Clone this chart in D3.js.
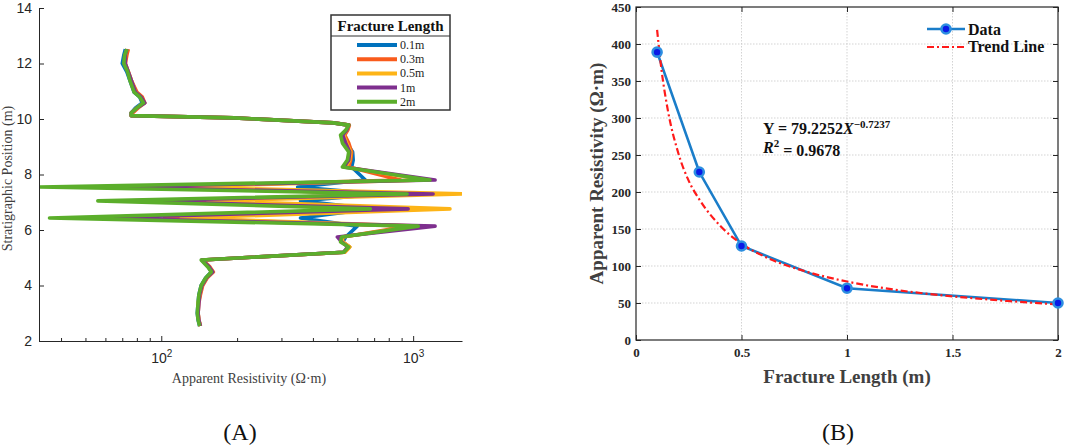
<!DOCTYPE html>
<html>
<head>
<meta charset="utf-8">
<script src="https://cdn.jsdelivr.net/npm/d3@7"></script>
<style>
  body { margin: 0; background: #fff; }
  svg { display: block; }
</style>
</head>
<body>
<div id="chart"></div>
<script>
// Panel A: apparent resistivity logs, one series per fracture length
const depth = [12.52, 12.3, 12.0, 11.7, 11.4, 10.97, 10.8, 10.58, 10.4, 10.22, 10.12, 10.04, 9.86, 9.78, 9.6, 9.42, 9.13, 8.81, 8.52, 8.27,
  7.80, 7.55, 7.30, 7.05, 6.76, 6.43, 6.14,
  5.75, 5.57, 5.39, 5.2, 4.92, 4.67, 4.49, 4.27, 4.0, 3.66, 3.37, 3.0, 2.76, 2.54];

const res01 = [72, 71, 70, 73, 75, 78, 82, 84, 79, 76, 76, 194, 483, 555, 545, 530, 545, 575, 578, 570,
  646, 348, 740, 357, 676, 357, 600,
  540, 525, 555, 530, 145, 154, 158, 150, 144, 141, 140, 139, 140, 142];
const res03 = [74, 73, 72, 74, 76, 80, 84, 86, 81, 77, 76, 195, 485, 558, 550, 535, 555, 570, 565, 555,
  890, 89, 890, 109, 810, 103, 970,
  525, 525, 560, 535, 146, 156, 161, 152, 146, 143, 141, 140, 141, 143];
const res05 = [73, 72, 71.5, 74, 76, 79, 83, 85, 80, 76, 76, 194, 483, 555, 545, 530, 545, 565, 560, 540,
  1110, 112, 1563, 153, 1400, 120, 1060,
  520, 525, 560, 535, 145, 155, 160, 151, 145, 142, 140, 140, 141, 143];
const res1 = [73, 72, 72, 74, 76, 79, 83, 86, 80, 76, 76, 194, 483, 555, 545, 525, 540, 560, 555, 530,
  1222, 59, 1200, 76, 955, 55, 1222,
  500, 520, 550, 530, 145, 155, 160, 151, 145, 142, 141, 140, 141, 143];
const res2 = [73, 71.5, 71, 73.5, 75, 78, 82, 85, 80, 76, 76, 194, 483, 555, 540, 515, 524, 555, 548, 524,
  1166, 33, 946, 56, 676, 36, 1047,
  520, 515, 555, 530, 144, 153, 158, 150, 144, 141, 140, 139, 140, 142];

const seriesNames = ['0.1m', '0.3m', '0.5m', '1m', '2m'];
const seriesColors = ['#0072BD', '#F95B1C', '#FDB417', '#7E2F8E', '#5BAE2B'];
const seriesValues = [res01, res03, res05, res1, res2];

const depthTicks = [2, 4, 6, 8, 10, 12, 14];
const resMajorTicks = [100, 1000];
const resMinorTicks = [40, 50, 60, 70, 80, 90, 200, 300, 400, 500, 600, 700, 800, 900];

// Panel B: mean apparent resistivity vs fracture length, with power-law trend
const fracLength = [0.1, 0.3, 0.5, 1, 2];
const appRes = [389, 227, 127, 70, 50];
const trendX = [0.1, 0.12, 0.15, 0.2, 0.25, 0.3, 0.4, 0.5, 0.6, 0.8, 1, 1.25, 1.5, 1.75, 2];
const trendY = [419, 367, 312, 253, 215, 190, 154, 130, 114, 93, 79, 67, 59, 53, 48];
const lenTicks = [0, 0.5, 1, 1.5, 2];
const appResTicks = [0, 50, 100, 150, 200, 250, 300, 350, 400, 450];

const W = 1065, H = 447;
const svg = d3.select('#chart').append('svg')
  .attr('width', W).attr('height', H);

const serif = '"Liberation Serif", "Times New Roman", serif';
const sans = '"Liberation Sans", Arial, sans-serif';

// ---------- Panel A ----------
const A = { left: 39, right: 462, top: 8, bottom: 341 };

const xA = d3.scaleLog().domain([32.7, 1563]).range([A.left, A.right]);
const yA = d3.scaleLinear().domain([2, 14]).range([A.bottom, A.top]);

const gA = svg.append('g');

gA.append('clipPath').attr('id', 'clipA')
  .append('rect')
  .attr('x', A.left).attr('y', A.top)
  .attr('width', A.right - A.left).attr('height', A.bottom - A.top);

const lineA = d3.line()
  .x(d => xA(d[1]))
  .y(d => yA(d[0]));

seriesValues.forEach((vals, i) => {
  gA.append('path')
    .datum(depth.map((d, j) => [d, vals[j]]))
    .attr('clip-path', 'url(#clipA)')
    .attr('fill', 'none')
    .attr('stroke', seriesColors[i])
    .attr('stroke-width', 3.6)
    .attr('stroke-linejoin', 'round')
    .attr('d', lineA);
});

// y axis (ticks point inward)
const yAxisA = gA.append('g')
  .attr('transform', `translate(${A.left},0)`)
  .call(d3.axisLeft(yA).tickValues(depthTicks).tickSizeInner(-5).tickSizeOuter(0).tickPadding(7));
yAxisA.select('.domain').attr('stroke', '#262626');
yAxisA.selectAll('.tick line').attr('stroke', '#262626');
yAxisA.selectAll('text')
  .style('font-family', sans).style('font-size', '14px').attr('fill', '#262626');

// x axis: minor ticks then major ticks with 10^n labels
const xMinorA = gA.append('g')
  .attr('transform', `translate(0,${A.bottom})`)
  .call(d3.axisBottom(xA).tickValues(resMinorTicks).tickSizeInner(-3).tickSizeOuter(0).tickFormat(''));
xMinorA.select('.domain').remove();
xMinorA.selectAll('.tick line').attr('stroke', '#262626');

const xAxisA = gA.append('g')
  .attr('transform', `translate(0,${A.bottom})`)
  .call(d3.axisBottom(xA).tickValues(resMajorTicks).tickSizeInner(-5).tickSizeOuter(0).tickPadding(12));
xAxisA.select('.domain').attr('stroke', '#262626');
xAxisA.selectAll('.tick line').attr('stroke', '#262626');
xAxisA.selectAll('text')
  .style('font-family', sans).style('font-size', '14px').attr('fill', '#262626')
  .text('10')
  .append('tspan')
  .attr('dy', '-0.55em')
  .style('font-size', '10px')
  .text(d => Math.round(Math.log10(d)));

// axis labels
gA.append('text')
  .attr('x', 249).attr('y', 383)
  .attr('text-anchor', 'middle')
  .style('font-family', serif).style('font-size', '14px')
  .attr('fill', '#404040')
  .text('Apparent Resistivity (Ω·m)');

gA.append('text')
  .attr('transform', `translate(12,${(A.top + A.bottom) / 2 + 4}) rotate(-90)`)
  .attr('text-anchor', 'middle')
  .style('font-family', serif).style('font-size', '14px')
  .attr('fill', '#404040')
  .text('Stratigraphic Position (m)');

// legend
const legA = gA.append('g').attr('transform', 'translate(331,15)');
legA.append('rect')
  .attr('width', 119).attr('height', 95)
  .attr('fill', '#fff').attr('stroke', '#333').attr('stroke-width', 1.5);
legA.append('line')
  .attr('x1', 0).attr('x2', 119).attr('y1', 21).attr('y2', 21)
  .attr('stroke', '#333').attr('stroke-width', 1.2);
legA.append('text')
  .attr('x', 59.5).attr('y', 16)
  .attr('text-anchor', 'middle')
  .style('font-family', serif).style('font-size', '15px').style('font-weight', 'bold')
  .attr('fill', '#111')
  .text('Fracture Length');
seriesNames.forEach((name, i) => {
  const yy = 30 + i * 14.2;
  legA.append('line')
    .attr('x1', 26).attr('x2', 66).attr('y1', yy).attr('y2', yy)
    .attr('stroke', seriesColors[i]).attr('stroke-width', 4);
  legA.append('text')
    .attr('x', 69).attr('y', yy + 4)
    .style('font-family', serif).style('font-size', '12px')
    .attr('fill', '#222')
    .text(name);
});

svg.append('text')
  .attr('x', 240).attr('y', 440)
  .attr('text-anchor', 'middle')
  .style('font-family', serif).style('font-size', '24px')
  .attr('fill', '#111')
  .text('(A)');

// ---------- Panel B ----------
const B = { left: 636, right: 1058, top: 7, bottom: 340 };

const xB = d3.scaleLinear().domain([0, 2]).range([B.left, B.right]);
const yB = d3.scaleLinear().domain([0, 450]).range([B.bottom, B.top]);

const gB = svg.append('g');

// grid
gB.append('g')
  .selectAll('line.gx')
  .data(lenTicks.slice(1, -1))
  .enter().append('line')
  .attr('x1', d => xB(d)).attr('x2', d => xB(d))
  .attr('y1', B.top).attr('y2', B.bottom)
  .attr('stroke', '#c8c8c8').attr('stroke-width', 0.8).attr('stroke-dasharray', '1.5,1.5');
gB.append('g')
  .selectAll('line.gy')
  .data(appResTicks.slice(1, -1))
  .enter().append('line')
  .attr('x1', B.left).attr('x2', B.right)
  .attr('y1', d => yB(d)).attr('y2', d => yB(d))
  .attr('stroke', '#c8c8c8').attr('stroke-width', 0.8).attr('stroke-dasharray', '1.5,1.5');

const tickStyle = sel => {
  sel.select('.domain').remove();
  sel.selectAll('.tick line').attr('stroke', '#262626');
  sel.selectAll('text')
    .style('font-family', serif).style('font-size', '13px').style('font-weight', 'bold')
    .attr('fill', '#262626');
};

gB.append('g').attr('transform', `translate(0,${B.bottom})`)
  .call(d3.axisBottom(xB).tickValues(lenTicks).tickFormat(d3.format('')).tickSizeInner(-5).tickSizeOuter(0).tickPadding(8))
  .call(tickStyle);
gB.append('g').attr('transform', `translate(0,${B.top})`)
  .call(d3.axisTop(xB).tickValues(lenTicks).tickFormat('').tickSizeInner(-5).tickSizeOuter(0))
  .call(tickStyle);
gB.append('g').attr('transform', `translate(${B.left},0)`)
  .call(d3.axisLeft(yB).tickValues(appResTicks).tickSizeInner(-5).tickSizeOuter(0).tickPadding(5))
  .call(tickStyle);
gB.append('g').attr('transform', `translate(${B.right},0)`)
  .call(d3.axisRight(yB).tickValues(appResTicks).tickFormat('').tickSizeInner(-5).tickSizeOuter(0))
  .call(tickStyle);

gB.append('rect')
  .attr('x', B.left).attr('y', B.top)
  .attr('width', B.right - B.left).attr('height', B.bottom - B.top)
  .attr('fill', 'none').attr('stroke', '#262626').attr('stroke-width', 1.2);

// data line
gB.append('path')
  .datum(fracLength.map((d, i) => [d, appRes[i]]))
  .attr('fill', 'none')
  .attr('stroke', '#1A7DC9')
  .attr('stroke-width', 2.6)
  .attr('d', d3.line().x(d => xB(d[0])).y(d => yB(d[1])));

// trend line
gB.append('path')
  .datum(trendX.map((d, i) => [d, trendY[i]]))
  .attr('fill', 'none')
  .attr('stroke', '#FF1A1A')
  .attr('stroke-width', 2.2)
  .attr('stroke-dasharray', '7,3,2,3')
  .attr('d', d3.line().x(d => xB(d[0])).y(d => yB(d[1])).curve(d3.curveMonotoneX));

gB.selectAll('circle.pt')
  .data(fracLength)
  .enter().append('circle')
  .attr('cx', d => xB(d))
  .attr('cy', (d, i) => yB(appRes[i]))
  .attr('r', 4.5)
  .attr('fill', '#0A1AE6')
  .attr('stroke', '#2D8FE0')
  .attr('stroke-width', 2.6);

// legend
const legB = gB.append('g').attr('transform', 'translate(927,0)');
legB.append('line')
  .attr('x1', 0).attr('x2', 38).attr('y1', 29).attr('y2', 29)
  .attr('stroke', '#1A7DC9').attr('stroke-width', 2.6);
legB.append('circle')
  .attr('cx', 19).attr('cy', 29).attr('r', 4.5)
  .attr('fill', '#0A1AE6').attr('stroke', '#2D8FE0').attr('stroke-width', 2.6);
legB.append('line')
  .attr('x1', 0).attr('x2', 38).attr('y1', 47).attr('y2', 47)
  .attr('stroke', '#FF1A1A').attr('stroke-width', 2.2).attr('stroke-dasharray', '7,3,2,3');
legB.append('text')
  .attr('x', 41).attr('y', 35)
  .style('font-family', serif).style('font-size', '16px').style('font-weight', 'bold')
  .attr('fill', '#111').text('Data');
legB.append('text')
  .attr('x', 41).attr('y', 52)
  .style('font-family', serif).style('font-size', '16px').style('font-weight', 'bold')
  .attr('fill', '#111').text('Trend Line');

// equation
const eq = gB.append('text')
  .attr('x', 763).attr('y', 134)
  .style('font-family', serif).style('font-size', '16px').style('font-weight', 'bold')
  .attr('fill', '#111');
eq.append('tspan').text('Y = 79.2252');
eq.append('tspan').style('font-style', 'italic').text('X');
eq.append('tspan').attr('dy', '-0.55em').style('font-size', '11px').text('−0.7237');

const r2 = gB.append('text')
  .attr('x', 763).attr('y', 153)
  .style('font-family', serif).style('font-size', '16px').style('font-weight', 'bold')
  .attr('fill', '#111');
r2.append('tspan').style('font-style', 'italic').text('R');
r2.append('tspan').attr('dy', '-0.55em').style('font-size', '11px').text('2');
r2.append('tspan').attr('dy', '0.55em').style('font-size', '16px').text(' = 0.9678');

// axis labels
gB.append('text')
  .attr('x', 847).attr('y', 383)
  .attr('text-anchor', 'middle')
  .style('font-family', serif).style('font-size', '19px').style('font-weight', 'bold')
  .attr('fill', '#404040')
  .text('Fracture Length (m)');
gB.append('text')
  .attr('transform', `translate(603,${(B.top + B.bottom) / 2}) rotate(-90)`)
  .attr('text-anchor', 'middle')
  .style('font-family', serif).style('font-size', '19px').style('font-weight', 'bold')
  .attr('fill', '#404040')
  .text('Apparent Resistivity (Ω·m)');

svg.append('text')
  .attr('x', 838).attr('y', 440)
  .attr('text-anchor', 'middle')
  .style('font-family', serif).style('font-size', '24px')
  .attr('fill', '#111')
  .text('(B)');
</script>
</body>
</html>
